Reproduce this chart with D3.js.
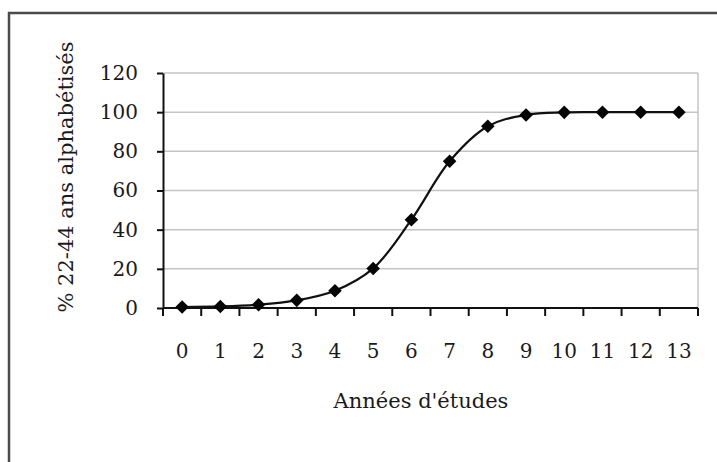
<!DOCTYPE html>
<html>
<head>
<meta charset="utf-8">
<script src="https://cdn.jsdelivr.net/npm/d3@7"></script>
<style>
  html, body { margin: 0; padding: 0; background: #fff; }
  svg { display: block; }
  text { font-family: "DejaVu Serif", serif; fill: #1a1a1a; }
</style>
</head>
<body>
<svg id="chart" width="717" height="462"></svg>
<script>
// Years of schooling and the share of literate 22-44 year olds
const years = ["0","1","2","3","4","5","6","7","8","9","10","11","12","13"];
const literatePct = [0.5, 0.8, 1.7, 3.9, 8.8, 20.2, 45.1, 74.9, 92.8, 98.6, 99.9, 100, 100, 100];
const yTicks = [0, 20, 40, 60, 80, 100, 120];
const xTitle = "Années d'études";
const yTitle = "% 22-44 ans alphabétisés";

const svg = d3.select("#chart");
const W = 717, H = 462;
const plot = { left: 163, top: 73, right: 698, bottom: 308 };
const FONT = "DejaVu Serif";

// outer frame (continues past the right and bottom edges)
svg.append("rect")
  .attr("x", 9).attr("y", 13)
  .attr("width", W + 20).attr("height", H + 20)
  .attr("fill", "none").attr("stroke", "#4a4a4a").attr("stroke-width", 2.5);

const x = d3.scaleBand().domain(years).range([plot.left, plot.right]);
const y = d3.scaleLinear().domain([0, 120]).range([plot.bottom, plot.top]);

// gridlines
svg.append("g")
  .selectAll("line")
  .data(yTicks.filter(d => d > 0))
  .join("line")
  .attr("x1", plot.left).attr("x2", plot.right)
  .attr("y1", d => y(d)).attr("y2", d => y(d))
  .attr("stroke", "#c4c4c4").attr("stroke-width", 1.5);

// plot-area border on the right
svg.append("line")
  .attr("x1", plot.right).attr("x2", plot.right)
  .attr("y1", plot.top).attr("y2", plot.bottom)
  .attr("stroke", "#c4c4c4").attr("stroke-width", 1.5);

// y axis
const yAxis = svg.append("g")
  .attr("transform", `translate(${plot.left},0)`)
  .call(d3.axisLeft(y).tickValues(yTicks).tickSize(6).tickPadding(19).tickSizeOuter(0));
yAxis.select(".domain").attr("stroke", "#111").attr("stroke-width", 2);
yAxis.selectAll(".tick line").attr("stroke", "#111").attr("stroke-width", 2);
yAxis.selectAll(".tick text")
  .attr("font-size", 20).attr("font-family", FONT).attr("fill", "#1a1a1a");

// x axis: ticks between categories, labels centred on each band
const xAxisG = svg.append("g").attr("transform", `translate(0,${plot.bottom})`);
xAxisG.append("line")
  .attr("x1", plot.left).attr("x2", plot.right)
  .attr("stroke", "#111").attr("stroke-width", 2);
const bounds = years.map(d => x(d)).concat([x(years[years.length - 1]) + x.bandwidth()]);
xAxisG.selectAll("line.tk")
  .data(bounds)
  .join("line").attr("class", "tk")
  .attr("x1", d => d).attr("x2", d => d)
  .attr("y1", 0).attr("y2", 8)
  .attr("stroke", "#111").attr("stroke-width", 2);
xAxisG.selectAll("text")
  .data(years)
  .join("text")
  .attr("x", d => x(d) + x.bandwidth() / 2)
  .attr("y", 50)
  .attr("text-anchor", "middle")
  .attr("font-size", 20)
  .text(d => d);

// axis titles
svg.append("text")
  .attr("x", 421).attr("y", 408)
  .attr("text-anchor", "middle")
  .attr("font-size", 21)
  .text(xTitle);

svg.append("text")
  .attr("transform", "translate(73,177) rotate(-90)")
  .attr("text-anchor", "middle")
  .attr("font-size", 21)
  .text(yTitle);

// smoothed series line
const pts = years.map((d, i) => [x(d) + x.bandwidth() / 2, y(literatePct[i])]);
svg.append("path")
  .attr("d", d3.line().curve(d3.curveCatmullRom.alpha(0.5))(pts))
  .attr("fill", "none").attr("stroke", "#111").attr("stroke-width", 2.2);

// diamond markers
const diamond = d3.symbol().type(d3.symbolSquare).size(92);
svg.append("g")
  .selectAll("path")
  .data(pts)
  .join("path")
  .attr("d", diamond)
  .attr("transform", d => `translate(${d[0]},${d[1]}) rotate(45)`)
  .attr("fill", "#050505");
</script>
</body>
</html>
